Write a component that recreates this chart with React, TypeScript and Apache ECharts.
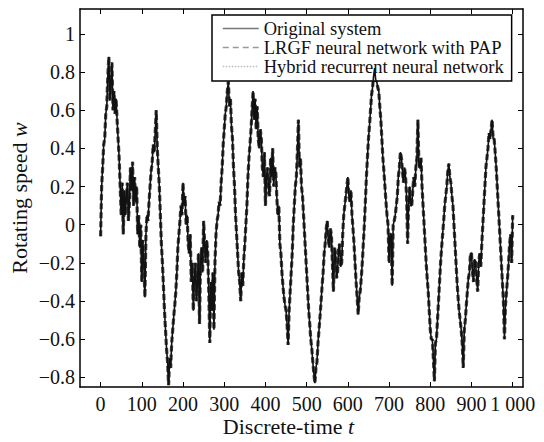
import React, { useEffect, useRef } from "react";
import * as echarts from "echarts";

// Discrete time step of the sampled values
const timeStep = 2.5;
// Rotating speed w at t = 0, 2.5, 5, ..., 1000
const originalSystem = [
  -0.06, 0.2, 0.3, 0.42, 0.45, 0.58, 0.62, 0.78,
  0.88, 0.65, 0.75, 0.85, 0.6, 0.7, 0.58, 0.66,
  0.55, 0.45, 0.35, 0.2, 0.05, 0.22, -0.05, 0.18,
  0.05, 0.15, 0.22, 0.02, 0.12, 0.3, 0.18, 0.33,
  0.1, 0.25, 0.12, 0.2, -0.05, 0.05, -0.12, 0.0,
  -0.3, -0.08, -0.2, -0.38, -0.05, 0.05, 0.02, 0.12,
  0.2, 0.28, 0.32, 0.42, 0.38, 0.48, 0.6, 0.4,
  0.3, 0.2, 0.05, -0.1, -0.2, -0.32, -0.45, -0.55,
  -0.65, -0.72, -0.84, -0.7, -0.75, -0.62, -0.55, -0.48,
  -0.42, -0.35, -0.25, -0.12, -0.05, 0.02, 0.1, 0.05,
  0.22, 0.1, 0.15, 0.0, 0.05, -0.1, -0.15, -0.05,
  -0.3, -0.2, -0.45, -0.28, -0.2, -0.4, -0.3, -0.15,
  -0.52, -0.2, -0.12, -0.25, 0.02, -0.1, -0.2, -0.08,
  -0.15, -0.35, -0.62, -0.3, -0.45, -0.25, -0.55, -0.2,
  -0.05, 0.02, 0.05, 0.12, 0.1, 0.22, 0.3, 0.42,
  0.5, 0.58, 0.62, 0.7, 0.75, 0.62, 0.66, 0.52,
  0.45, 0.3, 0.2, 0.05, -0.05, -0.15, -0.25, -0.3,
  -0.4, -0.25, -0.32, -0.18, -0.1, 0.0, 0.1, 0.25,
  0.35, 0.42, 0.5, 0.6, 0.7, 0.55, 0.66, 0.5,
  0.62, 0.45, 0.4, 0.5, 0.45, 0.3, 0.25, 0.38,
  0.1, 0.25, 0.3, 0.18, 0.15, 0.35, 0.25, 0.4,
  0.2, 0.3, 0.28, 0.15, 0.05, 0.1, -0.1, -0.15,
  -0.25, -0.32, -0.38, -0.42, -0.45, -0.52, -0.63, -0.45,
  -0.35, -0.25, -0.15, 0.0, 0.1, 0.2, 0.25, 0.38,
  0.55, 0.3, 0.35, 0.2, 0.15, 0.05, -0.05, -0.15,
  -0.25, -0.35, -0.45, -0.52, -0.6, -0.65, -0.72, -0.78,
  -0.83, -0.75, -0.72, -0.62, -0.55, -0.48, -0.4, -0.32,
  -0.25, -0.15, -0.1, -0.02, 0.02, -0.08, -0.12, -0.02,
  -0.05, -0.2, -0.35, -0.12, -0.15, -0.28, -0.25, -0.12,
  -0.1, -0.22, -0.2, -0.05, 0.05, 0.1, 0.15, 0.2,
  0.25, 0.15, 0.12, 0.18, 0.05, -0.02, -0.1, -0.2,
  -0.3, -0.38, -0.47, -0.38, -0.35, -0.28, -0.2, -0.1,
  0.0, 0.12, 0.25, 0.35, 0.45, 0.52, 0.6, 0.68,
  0.72, 0.78, 0.82, 0.76, 0.75, 0.72, 0.7, 0.62,
  0.55, 0.45, 0.35, 0.28, 0.2, 0.12, 0.05, 0.0,
  -0.2, -0.05, -0.05, -0.32, 0.0, 0.02, 0.05, 0.1,
  0.15, 0.25, 0.3, 0.38, 0.35, 0.28, 0.22, 0.3,
  0.25, 0.15, -0.1, 0.12, 0.2, 0.1, 0.1, 0.18,
  0.25, 0.2, 0.3, 0.35, 0.55, 0.3, 0.3, 0.35,
  0.2, 0.1, 0.0, -0.1, -0.2, -0.28, -0.35, -0.45,
  -0.55, -0.6, -0.6, -0.7, -0.82, -0.62, -0.6, -0.5,
  -0.4, -0.3, -0.2, -0.12, -0.05, 0.02, 0.1, 0.15,
  0.2, 0.28, 0.32, 0.25, 0.22, 0.15, 0.1, 0.0,
  -0.1, -0.2, -0.3, -0.38, -0.45, -0.5, -0.55, -0.62,
  -0.75, -0.55, -0.5, -0.42, -0.35, -0.28, -0.25, -0.15,
  -0.15, -0.25, -0.3, -0.18, -0.2, -0.28, -0.35, -0.2,
  -0.15, -0.22, -0.1, 0.0, 0.1, 0.2, 0.3, 0.35,
  0.4, 0.48, 0.45, 0.5, 0.55, 0.45, 0.45, 0.38,
  0.3, 0.2, 0.1, 0.0, -0.1, -0.2, -0.3, -0.4,
  -0.6, -0.42, -0.35, -0.28, -0.2, -0.1, -0.05, -0.2,
  0.05,
];
// The two network outputs follow the original system closely
const lrgfNetwork = originalSystem.slice();
const hybridNetwork = originalSystem.slice();

const xTicks = [0, 100, 200, 300, 400, 500, 600, 700, 800, 900, 1000];
const yTicks = [-0.8, -0.6, -0.4, -0.2, 0, 0.2, 0.4, 0.6, 0.8, 1];
const seriesNames = [
  "Original system",
  "LRGF neural network with PAP",
  "Hybrid recurrent neural network",
];

const FONT = "Liberation Serif";

export default function App() {
  const ref = useRef<HTMLDivElement>(null);
  useEffect(() => {
    if (!ref.current) return;
    const chart = echarts.init(ref.current, null, { renderer: "svg" });
    const toPairs = (arr: number[]) => arr.map((v, i) => [i * timeStep, v]);
    const xFmt = (v: number) => (v === 1000 ? "1 000" : String(v));
    const yFmt = (v: number) => {
      if (v === 0) return "0";
      const a = Math.abs(v);
      const s = a === 1 ? "1" : a.toFixed(1);
      return (v < 0 ? "\u2212" : "") + s;
    };
    const axisLine = { show: true, onZero: false, lineStyle: { color: "#000", width: 1.5 } };
    const tickStyle = { lineStyle: { color: "#000", width: 1 } };
    const nameStyle = (pad: number[]) => ({
      fontFamily: FONT,
      fontSize: 22,
      color: "#111",
      padding: pad,
      rich: {
        n: { fontFamily: FONT, fontSize: 22, color: "#111" },
        i: { fontStyle: "italic", fontFamily: FONT, fontSize: 22, color: "#111" },
      },
    });
    chart.setOption({
      animation: false,
      backgroundColor: "#fff",
      textStyle: { fontFamily: FONT },
      grid: { left: 79, right: 21, top: 9, bottom: 51, containLabel: false },
      legend: {
        orient: "vertical",
        left: 212,
        top: 15,
        itemWidth: 36,
        itemHeight: 14,
        itemGap: 0,
        padding: [4, 8, 5, 10],
        borderColor: "#000",
        borderWidth: 1.5,
        backgroundColor: "#fff",
        itemStyle: { opacity: 0 },
        textStyle: { fontFamily: FONT, fontSize: 18.5, lineHeight: 18.5, color: "#111" },
        data: [
          { name: seriesNames[0], lineStyle: { color: "#777", width: 1.5 } },
          { name: seriesNames[1], lineStyle: { color: "#999", width: 1.5, type: [6, 4] } },
          { name: seriesNames[2], lineStyle: { color: "#bbb", width: 1.5, type: [1.5, 1.5] } },
        ],
      },
      xAxis: [
        {
          type: "value",
          min: -50,
          max: 1025,
          axisLine,
          splitLine: { show: false },
          axisTick: { inside: true, length: 5, customValues: xTicks, ...tickStyle },
          axisLabel: {
            customValues: xTicks,
            formatter: xFmt,
            fontFamily: FONT,
            fontSize: 20,
            color: "#111",
            margin: 7,
          },
          name: "{n|Discrete-time }{i|t}",
          nameLocation: "middle",
          nameGap: 28,
          nameMoveOverlap: false,
          nameTextStyle: nameStyle([0, 26, 0, 0]),
        },
        {
          type: "value",
          position: "top",
          min: -50,
          max: 1025,
          axisLine,
          splitLine: { show: false },
          axisTick: { inside: true, length: 5, customValues: xTicks, ...tickStyle },
          axisLabel: { show: false },
        },
      ],
      yAxis: [
        {
          type: "value",
          min: -0.85,
          max: 1.13,
          axisLine,
          splitLine: { show: false },
          axisTick: { inside: true, length: 5, customValues: yTicks, ...tickStyle },
          axisLabel: {
            customValues: yTicks,
            formatter: yFmt,
            fontFamily: FONT,
            fontSize: 20,
            color: "#111",
            margin: 5,
          },
          name: "{n|Rotating speed }{i|w}",
          nameLocation: "middle",
          nameGap: 50,
          nameMoveOverlap: false,
          nameTextStyle: nameStyle([0, 0, 0, 0]),
        },
        {
          type: "value",
          position: "right",
          min: -0.85,
          max: 1.13,
          axisLine,
          splitLine: { show: false },
          axisTick: { inside: true, length: 5, customValues: yTicks, ...tickStyle },
          axisLabel: { show: false },
        },
      ],
      series: [
        {
          name: seriesNames[2],
          type: "line",
          data: toPairs(hybridNetwork),
          showSymbol: false,
          symbol: "none",
          lineStyle: { color: "#999", width: 1, type: [1.5, 1.5] },
          itemStyle: { color: "#bbb" },
          z: 2,
        },
        {
          name: seriesNames[1],
          type: "line",
          data: toPairs(lrgfNetwork),
          showSymbol: false,
          symbol: "none",
          lineStyle: { color: "#444", width: 3.2, type: [6, 3] },
          itemStyle: { color: "#999" },
          z: 3,
        },
        {
          name: seriesNames[0],
          type: "line",
          data: toPairs(originalSystem),
          showSymbol: false,
          symbol: "none",
          lineStyle: { color: "#111", width: 1.6 },
          itemStyle: { color: "#777" },
          z: 4,
        },
      ],
    });
    return () => chart.dispose();
  }, []);
  return (
    <div
      ref={ref}
      style={{ position: "absolute", left: 0, top: 0, width: 544, height: 442 }}
    />
  );
}
